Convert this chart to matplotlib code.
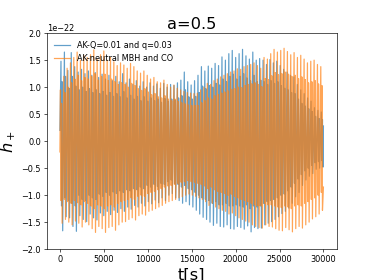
import numpy as np
import matplotlib
matplotlib.use("Agg")
import matplotlib.pyplot as plt

# ---- data, strain in units of 1e-22 ----
# blue series: "AK-Q=0.01 and q=0.03"
blue_t_up = [120, 510, 900, 1290, 1680, 2070, 2460, 2850, 3240, 3630,
             4020, 4410, 4800, 5190, 5580, 5970, 6360, 6750, 7140, 7530,
             7920, 8310, 8700, 9090, 9480, 9870, 10260, 10650, 11040, 11430,
             11820, 12210, 12600, 12990, 13380, 13770, 14160, 14550, 14940, 15330,
             15720, 16110, 16500, 16890, 17280, 17670, 18060, 18450, 18840, 19230,
             19620, 20010, 20400, 20790, 21180, 21570, 21960, 22350, 22740, 23130,
             23520, 23910, 24300, 24690, 25080, 25470, 25860, 26250, 26640, 27030,
             27420, 27810, 28200, 28590, 28980, 29370, 29760]
blue_h_up = [1.48, 1.65, 1.31, 1.64, 1.38, 1.28, 1.33, 1.25, 1.30, 1.22,
             1.27, 1.18, 1.24, 1.15, 1.22, 1.12, 1.20, 1.10, 1.25, 1.08,
             1.15, 1.05, 1.12, 1.02, 1.10, 1.00, 1.08, 1.02, 1.06, 0.98,
             1.07, 1.00, 1.05, 1.03, 1.08, 1.13, 1.28, 1.10, 1.04, 1.12,
             1.22, 1.38, 1.30, 1.39, 1.35, 1.44, 1.40, 1.56, 1.50, 1.62,
             1.68, 1.55, 1.62, 1.70, 1.58, 1.52, 1.65, 1.50, 1.53, 1.50,
             1.42, 1.51, 1.45, 1.48, 1.40, 1.33, 1.28, 1.22, 1.19, 1.05,
             0.95, 0.88, 0.80, 0.74, 0.62, 0.57, 0.54]
blue_t_a = [185, 575, 965, 1355, 1745, 2135, 2525, 2915, 3305, 3695,
            4085, 4475, 4865, 5255, 5645, 6035, 6425, 6815, 7205, 7595,
            7985, 8375, 8765, 9155, 9545, 9935, 10325, 10715, 11105, 11495,
            11885, 12275, 12665, 13055, 13445, 13835, 14225, 14615, 15005, 15395,
            15785, 16175, 16565, 16955, 17345, 17735, 18125, 18515, 18905, 19295,
            19685, 20075, 20465, 20855, 21245, 21635, 22025, 22415, 22805, 23195,
            23585, 23975, 24365, 24755, 25145, 25535, 25925, 26315, 26705, 27095,
            27485, 27875, 28265, 28655, 29045, 29435, 29825]
blue_h_a = [-1.20, -1.05, -1.10, -1.15, -1.20, -1.00, -1.08, -1.10, -1.00, -1.05,
            -1.08, -0.98, -1.02, -0.95, -1.00, -0.94, -0.97, -0.92, -0.95, -0.90,
            -0.92, -0.88, -0.90, -0.85, -0.88, -0.82, -0.85, -0.80, -0.84, -0.78,
            -0.80, -0.75, -0.72, -0.78, -0.80, -0.85, -0.82, -0.88, -0.90, -0.95,
            -1.00, -1.05, -1.08, -1.10, -1.15, -1.12, -1.18, -1.18, -1.15, -1.20,
            -1.20, -1.18, -1.20, -1.22, -1.18, -1.25, -1.20, -1.22, -1.20, -1.15,
            -1.12, -1.10, -1.08, -1.05, -1.00, -0.98, -0.92, -0.85, -0.78, -0.70,
            -0.62, -0.55, -0.50, -0.45, -0.40, -0.38, -0.36]
blue_t_b = [250, 640, 1030, 1420, 1810, 2200, 2590, 2980, 3370, 3760,
            4150, 4540, 4930, 5320, 5710, 6100, 6490, 6880, 7270, 7660,
            8050, 8440, 8830, 9220, 9610, 10000, 10390, 10780, 11170, 11560,
            11950, 12340, 12730, 13120, 13510, 13900, 14290, 14680, 15070, 15460,
            15850, 16240, 16630, 17020, 17410, 17800, 18190, 18580, 18970, 19360,
            19750, 20140, 20530, 20920, 21310, 21700, 22090, 22480, 22870, 23260,
            23650, 24040, 24430, 24820, 25210, 25600, 25990, 26380, 26770, 27160,
            27550, 27940, 28330, 28720, 29110, 29500, 29890]
blue_h_b = [1.10, 1.20, 0.98, 1.20, 1.02, 0.95, 1.00, 0.92, 0.97, 0.90,
            0.95, 0.88, 0.92, 0.85, 0.90, 0.83, 0.88, 0.82, 0.92, 0.80,
            0.85, 0.78, 0.83, 0.75, 0.82, 0.74, 0.80, 0.75, 0.78, 0.72,
            0.79, 0.74, 0.78, 0.76, 0.80, 0.84, 0.95, 0.82, 0.78, 0.83,
            0.90, 1.02, 0.97, 1.03, 1.00, 1.07, 1.04, 1.15, 1.10, 1.20,
            1.24, 1.15, 1.20, 1.25, 1.17, 1.12, 1.22, 1.10, 1.13, 1.10,
            1.05, 1.12, 1.07, 1.10, 1.03, 0.98, 0.95, 0.90, 0.88, 0.78,
            0.70, 0.65, 0.60, 0.55, 0.46, 0.42, 0.40]
blue_t_dn = [315, 705, 1095, 1485, 1875, 2265, 2655, 3045, 3435, 3825,
             4215, 4605, 4995, 5385, 5775, 6165, 6555, 6945, 7335, 7725,
             8115, 8505, 8895, 9285, 9675, 10065, 10455, 10845, 11235, 11625,
             12015, 12405, 12795, 13185, 13575, 13965, 14355, 14745, 15135, 15525,
             15915, 16305, 16695, 17085, 17475, 17865, 18255, 18645, 19035, 19425,
             19815, 20205, 20595, 20985, 21375, 21765, 22155, 22545, 22935, 23325,
             23715, 24105, 24495, 24885, 25275, 25665, 26055, 26445, 26835, 27225,
             27615, 28005, 28395, 28785, 29175, 29565, 29955]
blue_h_dn = [-1.66, -1.40, -1.42, -1.58, -1.67, -1.38, -1.45, -1.49, -1.35, -1.42,
             -1.46, -1.33, -1.38, -1.30, -1.36, -1.28, -1.32, -1.25, -1.30, -1.22,
             -1.26, -1.19, -1.22, -1.15, -1.20, -1.12, -1.16, -1.09, -1.14, -1.05,
             -1.10, -1.00, -0.97, -1.05, -1.10, -1.15, -1.12, -1.18, -1.22, -1.28,
             -1.35, -1.41, -1.45, -1.50, -1.56, -1.52, -1.58, -1.59, -1.55, -1.62,
             -1.63, -1.58, -1.60, -1.63, -1.57, -1.68, -1.60, -1.62, -1.61, -1.55,
             -1.52, -1.49, -1.45, -1.40, -1.34, -1.30, -1.24, -1.15, -1.03, -0.95,
             -0.82, -0.72, -0.65, -0.60, -0.52, -0.50, -0.48]
blue_t_ends = [0, 30000]
blue_h_ends = [0.20, 0.28]

# orange series: "AK-neutral MBH and CO"
orange_t_up = [60, 440, 820, 1200, 1580, 1960, 2340, 2720, 3100, 3480,
               3860, 4240, 4620, 5000, 5380, 5760, 6140, 6520, 6900, 7280,
               7660, 8040, 8420, 8800, 9180, 9560, 9940, 10320, 10700, 11080,
               11460, 11840, 12220, 12600, 12980, 13360, 13740, 14120, 14500, 14880,
               15260, 15640, 16020, 16400, 16780, 17160, 17540, 17920, 18300, 18680,
               19060, 19440, 19820, 20200, 20580, 20960, 21340, 21720, 22100, 22480,
               22860, 23240, 23620, 24000, 24380, 24760, 25140, 25520, 25900, 26280,
               26660, 27040, 27420, 27800, 28180, 28560, 28940, 29320, 29700]
orange_h_up = [0.95, 1.20, 1.35, 1.45, 1.55, 1.65, 1.50, 1.59, 1.55, 1.60,
               1.69, 1.52, 1.60, 1.67, 1.50, 1.55, 1.47, 1.40, 1.45, 1.41,
               1.35, 1.44, 1.38, 1.30, 1.26, 1.30, 1.22, 1.15, 1.18, 1.10,
               1.08, 1.13, 1.05, 1.00, 1.04, 0.98, 0.95, 0.92, 0.90, 0.89,
               0.88, 0.89, 0.95, 1.00, 1.07, 1.05, 1.12, 1.15, 1.19, 1.22,
               1.25, 1.28, 1.30, 1.34, 1.33, 1.38, 1.40, 1.42, 1.45, 1.40,
               1.35, 1.55, 1.52, 1.62, 1.70, 1.65, 1.68, 1.72, 1.66, 1.60,
               1.64, 1.55, 1.59, 1.52, 1.45, 1.48, 1.50, 1.42, 1.38]
orange_t_a = [123, 503, 883, 1263, 1643, 2023, 2403, 2783, 3163, 3543,
              3923, 4303, 4683, 5063, 5443, 5823, 6203, 6583, 6963, 7343,
              7723, 8103, 8483, 8863, 9243, 9623, 10003, 10383, 10763, 11143,
              11523, 11903, 12283, 12663, 13043, 13423, 13803, 14183, 14563, 14943,
              15323, 15703, 16083, 16463, 16843, 17223, 17603, 17983, 18363, 18743,
              19123, 19503, 19883, 20263, 20643, 21023, 21403, 21783, 22163, 22543,
              22923, 23303, 23683, 24063, 24443, 24823, 25203, 25583, 25963, 26343,
              26723, 27103, 27483, 27863, 28243, 28623, 29003, 29383, 29763]
orange_h_a = [-1.10, -1.08, -1.12, -1.15, -1.10, -1.14, -1.18, -1.12, -1.15, -1.20,
              -1.25, -1.18, -1.20, -1.25, -1.20, -1.18, -1.22, -1.15, -1.12, -1.10,
              -1.08, -1.05, -1.08, -1.02, -1.00, -1.02, -0.97, -0.95, -0.93, -0.90,
              -0.88, -0.85, -0.83, -0.82, -0.80, -0.78, -0.76, -0.75, -0.73, -0.75,
              -0.76, -0.78, -0.80, -0.83, -0.88, -0.85, -0.90, -0.93, -0.95, -0.97,
              -1.00, -0.98, -1.02, -1.05, -1.08, -1.10, -1.12, -1.15, -1.18, -1.20,
              -1.20, -1.15, -1.18, -1.18, -1.20, -1.22, -1.23, -1.20, -1.22, -1.25,
              -1.20, -1.18, -1.20, -1.15, -1.12, -1.08, -1.05, -1.00, -0.95]
orange_t_b = [187, 567, 947, 1327, 1707, 2087, 2467, 2847, 3227, 3607,
              3987, 4367, 4747, 5127, 5507, 5887, 6267, 6647, 7027, 7407,
              7787, 8167, 8547, 8927, 9307, 9687, 10067, 10447, 10827, 11207,
              11587, 11967, 12347, 12727, 13107, 13487, 13867, 14247, 14627, 15007,
              15387, 15767, 16147, 16527, 16907, 17287, 17667, 18047, 18427, 18807,
              19187, 19567, 19947, 20327, 20707, 21087, 21467, 21847, 22227, 22607,
              22987, 23367, 23747, 24127, 24507, 24887, 25267, 25647, 26027, 26407,
              26787, 27167, 27547, 27927, 28307, 28687, 29067, 29447, 29827]
orange_h_b = [0.70, 0.90, 1.00, 1.08, 1.15, 1.22, 1.12, 1.18, 1.15, 1.20,
              1.25, 1.13, 1.20, 1.24, 1.12, 1.15, 1.10, 1.05, 1.08, 1.05,
              1.00, 1.07, 1.03, 0.97, 0.94, 0.97, 0.91, 0.86, 0.88, 0.82,
              0.80, 0.84, 0.78, 0.75, 0.78, 0.73, 0.71, 0.69, 0.67, 0.66,
              0.66, 0.66, 0.71, 0.75, 0.80, 0.78, 0.84, 0.86, 0.89, 0.91,
              0.93, 0.96, 0.97, 1.00, 0.99, 1.03, 1.05, 1.06, 1.08, 1.05,
              1.01, 1.16, 1.14, 1.21, 1.27, 1.23, 1.25, 1.28, 1.24, 1.20,
              1.22, 1.16, 1.19, 1.14, 1.08, 1.10, 1.12, 1.06, 1.03]
orange_t_dn = [250, 630, 1010, 1390, 1770, 2150, 2530, 2910, 3290, 3670,
               4050, 4430, 4810, 5190, 5570, 5950, 6330, 6710, 7090, 7470,
               7850, 8230, 8610, 8990, 9370, 9750, 10130, 10510, 10890, 11270,
               11650, 12030, 12410, 12790, 13170, 13550, 13930, 14310, 14690, 15070,
               15450, 15830, 16210, 16590, 16970, 17350, 17730, 18110, 18490, 18870,
               19250, 19630, 20010, 20390, 20770, 21150, 21530, 21910, 22290, 22670,
               23050, 23430, 23810, 24190, 24570, 24950, 25330, 25710, 26090, 26470,
               26850, 27230, 27610, 27990, 28370, 28750, 29130, 29510, 29890]
orange_h_dn = [-1.52, -1.45, -1.50, -1.55, -1.48, -1.52, -1.59, -1.50, -1.55, -1.62,
               -1.69, -1.58, -1.62, -1.69, -1.60, -1.58, -1.65, -1.55, -1.50, -1.49,
               -1.45, -1.42, -1.46, -1.38, -1.35, -1.37, -1.30, -1.28, -1.25, -1.22,
               -1.19, -1.15, -1.12, -1.10, -1.08, -1.05, -1.03, -1.00, -0.98, -1.00,
               -1.02, -1.05, -1.08, -1.12, -1.19, -1.15, -1.22, -1.25, -1.28, -1.30,
               -1.35, -1.33, -1.38, -1.42, -1.45, -1.48, -1.50, -1.55, -1.58, -1.60,
               -1.61, -1.55, -1.58, -1.59, -1.62, -1.65, -1.66, -1.60, -1.64, -1.68,
               -1.62, -1.58, -1.61, -1.55, -1.50, -1.44, -1.40, -1.35, -1.28]
orange_t_ends = [0, 30000]
orange_h_ends = [-0.20, -0.85]

labels = ["AK-Q=0.01 and q=0.03", "AK-neutral MBH and CO"]
title = "a=0.5"
scale = 1e-22


def series(times, values):
    t = np.concatenate([np.asarray(x, float) for x in times])
    h = np.concatenate([np.asarray(x, float) for x in values])
    order = np.argsort(t, kind="stable")
    return t[order], h[order] * scale


tb, hb = series([blue_t_up, blue_t_a, blue_t_b, blue_t_dn, blue_t_ends],
                [blue_h_up, blue_h_a, blue_h_b, blue_h_dn, blue_h_ends])
to, ho = series([orange_t_up, orange_t_a, orange_t_b, orange_t_dn, orange_t_ends],
                [orange_h_up, orange_h_a, orange_h_b, orange_h_dn, orange_h_ends])

fig = plt.figure(figsize=(6.4, 4.8), dpi=58.4375)
ax = fig.add_subplot(111)
ax.plot(tb, hb, color="#1f77b4", alpha=0.7, label=labels[0])
ax.plot(to, ho, color="#ff7f0e", alpha=0.7, label=labels[1])
ax.set_ylim(-2e-22, 2e-22)
ax.set_yticks(np.arange(-2.0, 2.01, 0.5) * scale)
ax.set_xticks([0, 5000, 10000, 15000, 20000, 25000, 30000])
ax.set_title(title, fontsize=20)
ax.set_xlabel("t[s]", fontsize=20)
ax.set_ylabel("$h_+$", fontsize=20)
ax.legend(loc="upper left", frameon=False)
fig.savefig("out.png", dpi=58.4375)
